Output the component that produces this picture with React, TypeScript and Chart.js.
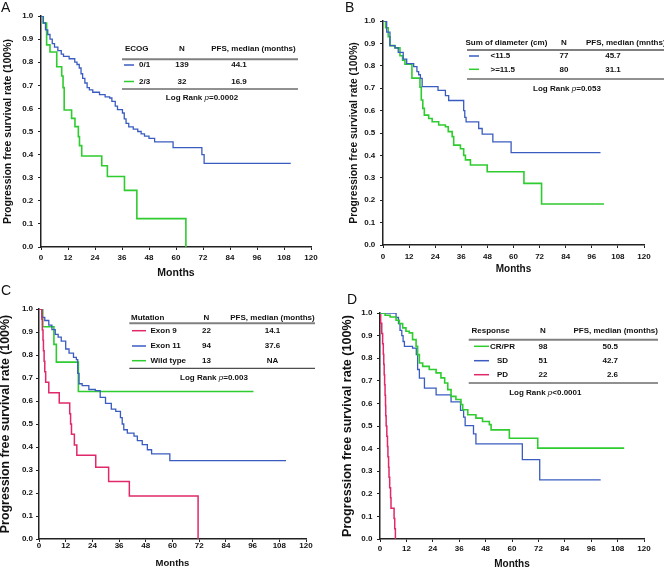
import React, { useEffect, useRef } from 'react';
import { Chart, registerables } from 'chart.js';

Chart.register(...registerables);

const FONT = '"Liberation Sans", Arial, Helvetica, sans-serif';
const BLUE = '#3a5cc0';
const GREEN = '#2fcc2f';
const RED = '#e0286a';

// ---------- tick labels ----------
const monthTicks = [0, 12, 24, 36, 48, 60, 72, 84, 96, 108, 120];
const rateTicks = [0, 0.1, 0.2, 0.3, 0.4, 0.5, 0.6, 0.7, 0.8, 0.9, 1.0];

// ---------- Panel A: ECOG ----------
const aEcog01Months = [0, 1, 2, 3, 4, 5, 6, 7.5, 9, 10, 12.5, 15, 16, 17, 17.8, 18.5, 19.5, 20.5, 21.5, 23, 26, 28.5, 30.5, 31.5, 33, 34, 36.2, 37, 37.8, 39, 41, 43, 44.5, 46, 48, 50.5, 58.7, 71.5, 72.5, 111];
const aEcog01Surv = [1, 0.97, 0.94, 0.92, 0.9, 0.88, 0.865, 0.85, 0.835, 0.825, 0.815, 0.8, 0.79, 0.775, 0.75, 0.73, 0.71, 0.69, 0.68, 0.67, 0.66, 0.65, 0.645, 0.63, 0.61, 0.595, 0.58, 0.555, 0.535, 0.52, 0.51, 0.5, 0.49, 0.48, 0.47, 0.455, 0.43, 0.4, 0.362, 0.362];
const aEcog23Months = [0, 1, 2.5, 4, 7, 9.2, 9.8, 10.3, 13.6, 15.1, 16.6, 17.1, 18.1, 27, 29.5, 37.1, 42.6, 64.4];
const aEcog23Surv = [1, 0.969, 0.875, 0.844, 0.78, 0.74, 0.69, 0.593, 0.557, 0.521, 0.478, 0.439, 0.394, 0.352, 0.305, 0.245, 0.123, 0];
const aHeaders = ['ECOG', 'N', 'PFS, median (months)'];
const aNames = ['0/1', '2/3'];
const aN = ['139', '32'];
const aMedian = ['44.1', '16.9'];
const aP = '=0.0002';

// ---------- Panel B: Sum of diameter ----------
const bSmallMonths = [0, 1.7, 3.2, 5.5, 7.0, 9.3, 10.9, 14.1, 15.6, 16.4, 17.2, 18, 25.3, 28.7, 30.2, 37.1, 37.6, 38.2, 44, 45.6, 50.5, 58.9, 100];
const bSmallSurv = [1, 0.95, 0.89, 0.88, 0.86, 0.83, 0.81, 0.796, 0.774, 0.76, 0.744, 0.707, 0.69, 0.667, 0.645, 0.6, 0.57, 0.55, 0.52, 0.495, 0.46, 0.412, 0.412];
const bLargeMonths = [0, 1.2, 2.4, 3.2, 5.5, 7.8, 9, 10.1, 13.3, 17, 17.6, 18.3, 19, 21, 22.6, 25.6, 28.7, 30, 31.8, 32.5, 35.6, 37.1, 37.9, 40.2, 47.9, 64.8, 72.9, 101.6];
const bLargeSurv = [1, 0.97, 0.93, 0.89, 0.88, 0.845, 0.825, 0.807, 0.745, 0.704, 0.647, 0.61, 0.58, 0.565, 0.55, 0.536, 0.528, 0.506, 0.484, 0.446, 0.43, 0.4, 0.38, 0.357, 0.327, 0.275, 0.183, 0.183];
const bHeaders = ['Sum of diameter (cm)', 'N', 'PFS, median (mnths)'];
const bNames = ['<11.5', '>=11.5'];
const bN = ['77', '80'];
const bMedian = ['45.7', '31.1'];
const bP = '=0.053';

// ---------- Panel C: Mutation ----------
const cExon9Months = [0, 1.3, 1.5, 1.8, 2.0, 2.3, 2.6, 3.0, 4.4, 9.1, 13.8, 14.2, 14.6, 15.9, 17, 25.5, 31.3, 40.6, 71.5];
const cExon9Surv = [1, 0.955, 0.909, 0.864, 0.818, 0.773, 0.727, 0.682, 0.636, 0.591, 0.545, 0.5, 0.455, 0.409, 0.364, 0.312, 0.25, 0.187, 0];
const cExon11Months = [0, 1.3, 2.6, 4.4, 5.8, 7.3, 8.6, 10, 12, 13.5, 15.5, 16.8, 17.4, 18, 19.4, 22.4, 25.3, 27.5, 29.9, 32.5, 34.5, 36.6, 37.4, 38.1, 39.7, 42.7, 44.2, 46.4, 48.7, 50.6, 58.8, 111];
const cExon11Surv = [1, 0.964, 0.95, 0.93, 0.91, 0.89, 0.878, 0.86, 0.826, 0.808, 0.79, 0.78, 0.72, 0.675, 0.667, 0.65, 0.645, 0.616, 0.59, 0.565, 0.555, 0.528, 0.5, 0.475, 0.46, 0.447, 0.428, 0.41, 0.388, 0.37, 0.341, 0.341];
const cWildMonths = [0, 1.7, 6.7, 7.8, 17.7, 96.4];
const cWildSurv = [1, 0.923, 0.846, 0.769, 0.641, 0.641];
const cHeaders = ['Mutation', 'N', 'PFS, median (months)'];
const cNames = ['Exon 9', 'Exon 11', 'Wild type'];
const cN = ['22', '94', '13'];
const cMedian = ['14.1', '37.6', 'NA'];
const cP = '=0.003';

// ---------- Panel D: Response ----------
const dCrprMonths = [0, 2.3, 4.6, 7.3, 8.8, 10.3, 11.8, 13.3, 14.8, 16.4, 17.1, 17.9, 19.4, 22.4, 25.5, 27.7, 29.4, 30.8, 32.3, 34.5, 36.8, 37.6, 39.9, 43.6, 46.6, 49.7, 50.5, 58.8, 71.7, 111];
const dCrprSurv = [1, 0.99, 0.982, 0.968, 0.953, 0.934, 0.919, 0.912, 0.882, 0.853, 0.816, 0.779, 0.764, 0.75, 0.735, 0.713, 0.69, 0.661, 0.631, 0.617, 0.595, 0.572, 0.55, 0.535, 0.52, 0.506, 0.483, 0.446, 0.402, 0.402];
const dSdMonths = [0, 7.3, 8.4, 9.1, 9.9, 10.5, 11.1, 14.8, 16.5, 17.1, 17.9, 20.2, 25.5, 32.3, 36.6, 38, 38.7, 42.5, 43.6, 64.7, 72.6, 100.3];
const dSdSurv = [1, 0.98, 0.953, 0.923, 0.9, 0.874, 0.852, 0.845, 0.816, 0.75, 0.712, 0.668, 0.638, 0.607, 0.569, 0.539, 0.502, 0.465, 0.421, 0.351, 0.262, 0.262];
const dPdMonths = [0, 0.3, 0.8, 1.2, 1.5, 1.7, 1.9, 2.1, 2.3, 2.5, 2.6, 2.8, 3.1, 3.4, 3.6, 3.9, 4.1, 4.4, 4.8, 5.0, 6.4, 6.7, 7.0];
const dPdSurv = [1, 0.955, 0.909, 0.864, 0.818, 0.773, 0.727, 0.682, 0.636, 0.591, 0.545, 0.5, 0.455, 0.409, 0.364, 0.318, 0.273, 0.227, 0.182, 0.136, 0.091, 0.045, 0];
const dHeaders = ['Response', 'N', 'PFS, median (months)'];
const dNames = ['CR/PR', 'SD', 'PD'];
const dN = ['98', '51', '22'];
const dMedian = ['50.5', '42.7', '2.6'];
const dP = '<0.0001';

const W = 332;
const H = 284;

type Series = { label: string; t: number[]; s: number[]; color: string; width: number };

type PanelCfg = {
  ox: number; oy: number;
  letter: string; letterX: number; letterY: number;
  area: { left: number; top: number; right: number; bottom: number };
  xTitleSize: number; xTitleY: number; yTitleSize: number; yTitleX: number;
  xTickPad: number; yTickPad: number;
  series: Series[];
  table: any;
};

const panels: PanelCfg[] = [
  {
    ox: 0, oy: 0, letter: 'A', letterX: 1, letterY: 12,
    area: { left: 41, top: 16, right: 311, bottom: 247 },
    xTitleSize: 10.5, xTitleY: 273, yTitleSize: 10.5, yTitleX: 8.5,
    xTickPad: 4, yTickPad: 4.7,
    series: [
      { label: aNames[0], t: aEcog01Months, s: aEcog01Surv, color: BLUE, width: 1.3 },
      { label: aNames[1], t: aEcog23Months, s: aEcog23Surv, color: GREEN, width: 1.6 },
    ],
    table: {
      headers: aHeaders, names: aNames, ns: aN, medians: aMedian, p: aP,
      x0: 122, x1: 298, headY: 48.5, headLineY: 59.3, rowY: [65, 81.5], bottomY: 89, pY: 97.5, pX: 202,
      sample: [124, 134], nameHeadX: 125, nameX: 139, nameAlign: 'left', nX: 182,
      pfsHeadX: 253.5, pfsAlign: 'center', medX: 239, medAlign: 'center',
    },
  },
  {
    ox: 332, oy: 0, letter: 'B', letterX: 13, letterY: 12,
    area: { left: 51, top: 21, right: 312, bottom: 245 },
    xTitleSize: 10, xTitleY: 269, yTitleSize: 10.3, yTitleX: 21.7,
    xTickPad: 4.7, yTickPad: 4.7,
    series: [
      { label: bNames[0], t: bSmallMonths, s: bSmallSurv, color: BLUE, width: 1.3 },
      { label: bNames[1], t: bLargeMonths, s: bLargeSurv, color: GREEN, width: 1.6 },
    ],
    table: {
      headers: bHeaders, names: bNames, ns: bN, medians: bMedian, p: bP,
      x0: 135, x1: 332, headY: 42.7, headLineY: 50, rowY: [56, 69.3], bottomY: 79, pY: 88.3, pX: 235,
      sample: [137, 147], nameHeadX: 133.5, nameX: 158.5, nameAlign: 'left', nX: 232,
      pfsHeadX: 254, pfsAlign: 'left', medX: 281, medAlign: 'center',
    },
  },
  {
    ox: 0, oy: 284, letter: 'C', letterX: 1, letterY: 11,
    area: { left: 39, top: 25, right: 306, bottom: 255 },
    xTitleSize: 9.5, xTitleY: 279, yTitleSize: 12.4, yTitleX: 5.5,
    xTickPad: -0.7, yTickPad: 3,
    series: [
      { label: cNames[0], t: cExon9Months, s: cExon9Surv, color: RED, width: 1.5 },
      { label: cNames[1], t: cExon11Months, s: cExon11Surv, color: BLUE, width: 1.3 },
      { label: cNames[2], t: cWildMonths, s: cWildSurv, color: GREEN, width: 1.6 },
    ],
    table: {
      headers: cHeaders, names: cNames, ns: cN, medians: cMedian, p: cP,
      x0: 129.3, x1: 315, headY: 33.3, headLineY: 39.3, rowY: [46.7, 62, 76.7], bottomY: 84.3, pY: 93.3, pX: 214,
      sample: [132, 146], nameHeadX: 131, nameX: 150.5, nameAlign: 'left', nX: 206.5,
      pfsHeadX: 272.5, pfsAlign: 'center', medX: 272.5, medAlign: 'center',
    },
  },
  {
    ox: 332, oy: 284, letter: 'D', letterX: 15, letterY: 20,
    area: { left: 48, top: 29, right: 312, bottom: 255 },
    xTitleSize: 10, xTitleY: 280, yTitleSize: 12.6, yTitleX: 16,
    xTickPad: 3, yTickPad: 4.6,
    series: [
      { label: dNames[0], t: dCrprMonths, s: dCrprSurv, color: GREEN, width: 1.6 },
      { label: dNames[1], t: dSdMonths, s: dSdSurv, color: BLUE, width: 1.3 },
      { label: dNames[2], t: dPdMonths, s: dPdSurv, color: RED, width: 1.5 },
    ],
    table: {
      headers: dHeaders, names: dNames, ns: dN, medians: dMedian, p: dP,
      x0: 136.7, x1: 326, headY: 46.7, headLineY: 55.7, rowY: [62.3, 76.7, 90.7], bottomY: 99, pY: 108.3, pX: 213.3,
      sample: [142, 157], nameHeadX: 139.5, nameX: 170.5, nameAlign: 'center', nX: 211,
      pfsHeadX: 283.7, pfsAlign: 'center', medX: 286, medAlign: 'right',
    },
  },
];

const decorPlugin = {
  id: 'kmDecor',
  afterDraw(chart: any, _args: any, o: any) {
    const ctx = chart.ctx as CanvasRenderingContext2D;
    const tb = o.table;
    ctx.save();
    ctx.fillStyle = '#111';
    ctx.font = `14px ${FONT}`;
    ctx.textAlign = 'left';
    ctx.textBaseline = 'alphabetic';
    ctx.fillText(o.letter, o.letterX, o.letterY);

    ctx.font = `bold 8px ${FONT}`;
    ctx.textBaseline = 'middle';
    ctx.textAlign = 'left';
    ctx.fillText(tb.headers[0], tb.nameHeadX, tb.headY);
    ctx.textAlign = 'center';
    ctx.fillText(tb.headers[1], tb.nX, tb.headY);
    ctx.textAlign = tb.pfsAlign;
    ctx.fillText(tb.headers[2], tb.pfsHeadX, tb.headY);

    ctx.strokeStyle = '#808080';
    ctx.lineWidth = 2;
    ctx.beginPath();
    ctx.moveTo(tb.x0, tb.headLineY);
    ctx.lineTo(tb.x1, tb.headLineY);
    ctx.stroke();

    const ds = chart.data.datasets;
    tb.rowY.forEach((y: number, i: number) => {
      ctx.strokeStyle = ds[i].borderColor;
      ctx.lineWidth = 1.5;
      ctx.beginPath();
      ctx.moveTo(tb.sample[0], y);
      ctx.lineTo(tb.sample[1], y);
      ctx.stroke();
      ctx.fillStyle = '#111';
      ctx.textAlign = tb.nameAlign;
      ctx.fillText(tb.names[i], tb.nameX, y);
      ctx.textAlign = 'center';
      ctx.fillText(tb.ns[i], tb.nX, y);
      ctx.textAlign = tb.medAlign;
      ctx.fillText(tb.medians[i], tb.medX, y);
    });

    ctx.strokeStyle = '#222';
    ctx.lineWidth = 1;
    ctx.beginPath();
    ctx.moveTo(tb.x0, tb.bottomY);
    ctx.lineTo(tb.x1, tb.bottomY);
    ctx.stroke();

    const bold = `bold 8px ${FONT}`;
    const ital = `italic 8px ${FONT}`;
    const p1 = 'Log Rank ';
    const p2 = 'p';
    const p3 = tb.p;
    ctx.font = bold;
    const w1 = ctx.measureText(p1).width;
    const w3 = ctx.measureText(p3).width;
    ctx.font = ital;
    const w2 = ctx.measureText(p2).width;
    let x = tb.pX - (w1 + w2 + w3) / 2;
    ctx.textAlign = 'left';
    ctx.fillStyle = '#111';
    ctx.font = bold;
    ctx.fillText(p1, x, tb.pY);
    x += w1;
    ctx.font = ital;
    ctx.fillText(p2, x, tb.pY);
    x += w2;
    ctx.font = bold;
    ctx.fillText(p3, x, tb.pY);
    ctx.restore();
  },
};

function buildConfig(cfg: PanelCfg): any {
  const a = cfg.area;
  const tickFont = { family: FONT, size: 8, weight: 'bold' as const, lineHeight: 1 };
  const axisColor = '#222';
  return {
    type: 'line',
    data: {
      datasets: cfg.series.map((s) => ({
        label: s.label,
        data: s.t.map((t, i) => ({ x: t, y: s.s[i] })),
        borderColor: s.color,
        backgroundColor: s.color,
        borderWidth: s.width,
        stepped: 'before',
        pointRadius: 0,
        fill: false,
        tension: 0,
      })),
    },
    options: {
      animation: false,
      responsive: false,
      devicePixelRatio: 1,
      layout: { padding: { left: 0, top: a.top, right: W - a.right, bottom: 0 } },
      plugins: {
        legend: { display: false },
        tooltip: { enabled: false },
        kmDecor: { letter: cfg.letter, letterX: cfg.letterX, letterY: cfg.letterY, table: cfg.table },
      },
      scales: {
        x: {
          type: 'linear',
          min: 0,
          max: 120,
          afterBuildTicks: (s: any) => { s.ticks = monthTicks.map((v) => ({ value: v })); },
          afterFit: (s: any) => { s.height = H - a.bottom; },
          ticks: {
            font: tickFont, color: '#111', padding: cfg.xTickPad, maxRotation: 0, autoSkip: false,
            callback: (v: any) => String(v),
          },
          grid: { display: true, drawOnChartArea: false, drawTicks: true, tickLength: 3, color: axisColor, lineWidth: 1 },
          border: { display: true, color: axisColor, width: 1.5 },
          title: {
            display: true, text: 'Months', color: '#111',
            font: { family: FONT, size: cfg.xTitleSize, weight: 'bold', lineHeight: 1 },
            padding: { top: 0, bottom: H - cfg.xTitleY - cfg.xTitleSize / 2 },
          },
        },
        y: {
          type: 'linear',
          min: 0,
          max: 1,
          afterBuildTicks: (s: any) => { s.ticks = rateTicks.map((v) => ({ value: v })); },
          afterFit: (s: any) => { s.width = a.left; },
          ticks: {
            font: tickFont, color: '#111', padding: cfg.yTickPad, autoSkip: false,
            callback: (v: any) => Number(v).toFixed(1),
          },
          grid: { display: true, drawOnChartArea: false, drawTicks: true, tickLength: 3, color: axisColor, lineWidth: 1 },
          border: { display: true, color: axisColor, width: 1.5 },
          title: {
            display: true, text: 'Progression free survival rate (100%)', color: '#111',
            font: { family: FONT, size: cfg.yTitleSize, weight: 'bold', lineHeight: 1 },
            padding: { top: cfg.yTitleX - cfg.yTitleSize / 2, bottom: 0 },
          },
        },
      },
    },
    plugins: [decorPlugin],
  };
}

function Panel({ cfg }: { cfg: PanelCfg }) {
  const ref = useRef<HTMLCanvasElement>(null);
  useEffect(() => {
    const chart = new Chart(ref.current as HTMLCanvasElement, buildConfig(cfg));
    return () => chart.destroy();
  }, [cfg]);
  return (
    <canvas
      ref={ref}
      width={W}
      height={H}
      style={{ position: 'absolute', left: cfg.ox, top: cfg.oy, width: W, height: H, display: 'block' }}
    />
  );
}

export default function App() {
  return (
    <div style={{ position: 'absolute', left: 0, top: 0, width: 664, height: 568, background: '#fff', overflow: 'hidden' }}>
      {panels.map((p) => (
        <Panel key={p.letter} cfg={p} />
      ))}
    </div>
  );
}
